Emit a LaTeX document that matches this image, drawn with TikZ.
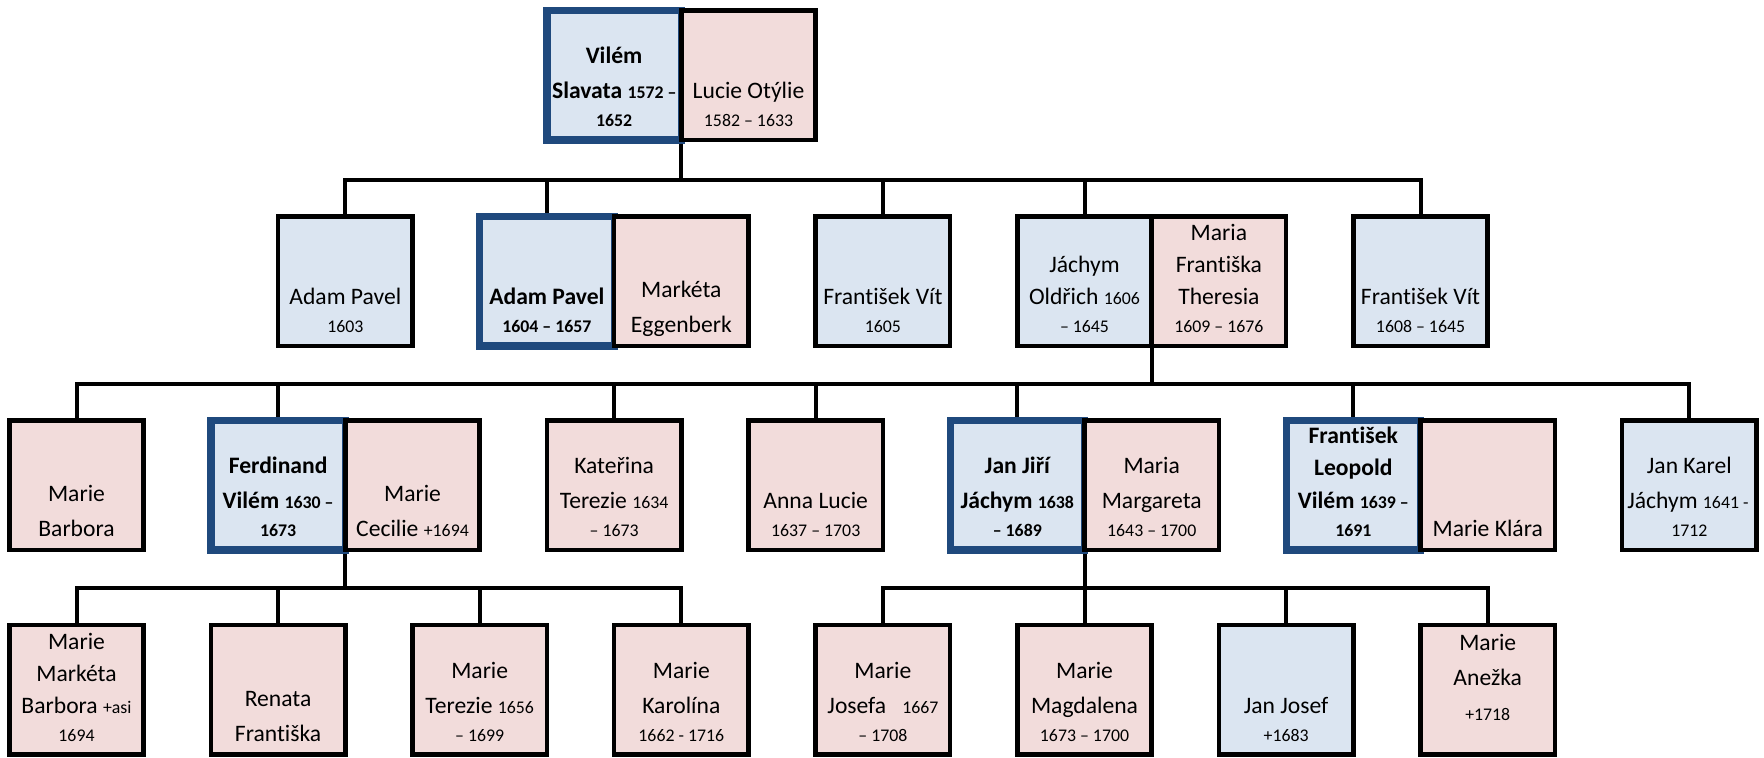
\documentclass[tikz,border=0pt]{standalone}
\usepackage{fontspec}
\setmainfont{Carlito}[Ligatures=NoCommon]
\usetikzlibrary{backgrounds}
\definecolor{maleFill}{RGB}{219,229,241}
\definecolor{femFill}{RGB}{242,220,219}
\definecolor{heirBlue}{RGB}{31,73,125}
\newcommand\nfont{\fontsize{11.8}{17.5}\selectfont}
\newcommand\yr{\fontsize{8.9}{17.5}\selectfont}
\newcommand\ptext[1]{\makebox[60pt]{\vbox to 51.25pt{\hsize=200pt\vss\centering\nfont #1\par\kern-\prevdepth}}}
\hbadness=10000 \hfuzz=\maxdimen \vbadness=10000 \vfuzz=\maxdimen
\tikzset{
  person/.style={rectangle, minimum width=67.2pt, minimum height=64.75pt, inner sep=0pt, outer sep=0pt, line width=2.3pt, draw=black},
  male/.style={person, fill=maleFill},
  female/.style={person, fill=femFill},
  heir/.style={person, fill=maleFill, draw=heirBlue, line width=3.6pt},
  link/.style={line width=2pt, draw=black},
}
\begin{document}
\begin{tikzpicture}[x=0.5pt,y=-0.5pt]
\useasboundingbox (0,0) rectangle (1764,757);
% level 0
\node[heir] (vilem) at (614.1,75.25) {\ptext{\bfseries Vilém\\\makebox[62pt][l]{Slavata {\yr 1572 –}}\\[-3.5pt]{\yr 1652}}};
\node[female] (lucie) at (748.5,75.25) {\ptext{Lucie Otýlie\\[-3.5pt]{\yr 1582 – 1633}}};
% level 1
\node[male] (adam) at (345.3,281.25) {\ptext{Adam Pavel\\[-3.5pt]{\yr 1603}}};
\node[heir] (adamb) at (546.9,281.25) {\ptext{\bfseries Adam Pavel\\[-3.5pt]{\yr 1604 – 1657}}};
\node[female] (marketa) at (681.3,281.25) {\ptext{Markéta\\Eggenberk}};
\node[male] (fvit) at (882.9,281.25) {\ptext{František Vít\\[-3.5pt]{\yr 1605}}};
\node[male] (jachym) at (1084.5,281.25) {\ptext{Jáchym\\[-1.5pt]Oldřich {\yr 1606}\\[-3.5pt]{\yr – 1645}}};
\node[female] (mariaf) at (1218.9,281.25) {\ptext{Maria\\[-1.5pt]Františka\\[-1.5pt]Theresia\\[-3.5pt]{\yr 1609 – 1676}}};
\node[male] (fvitb) at (1420.5,281.25) {\ptext{František Vít\\[-3.5pt]{\yr 1608 – 1645}}};
% level 2
\node[female] (mbarbora) at (76.5,485.25) {\ptext{Marie\\Barbora}};
\node[heir] (ferdinand) at (278.1,485.25) {\ptext{\bfseries Ferdinand\\Vilém {\yr 1630 –}\\[-3.5pt]{\yr 1673}}};
\node[female] (cecilie) at (412.5,485.25) {\ptext{Marie\\Cecilie {\yr +1694}}};
\node[female] (katerina) at (614.1,485.25) {\ptext{Kateřina\\Terezie {\yr 1634}\\[-3.5pt]{\yr – 1673}}};
\node[female] (anna) at (815.7,485.25) {\ptext{Anna Lucie\\[-3.5pt]{\yr 1637 – 1703}}};
\node[heir] (janjiri) at (1017.3,485.25) {\ptext{\bfseries Jan Jiří\\Jáchym {\yr 1638}\\[-3.5pt]{\yr – 1689}}};
\node[female] (margareta) at (1151.7,485.25) {\ptext{Maria\\Margareta\\[-3.5pt]{\yr 1643 – 1700}}};
\node[heir] (leopold) at (1353.3,485.25) {\ptext{\bfseries František\\[-1.5pt]Leopold\\[-1pt]Vilém {\yr 1639 –}\\[-3.5pt]{\yr 1691}}};
\node[female] (klara) at (1487.7,485.25) {\ptext{Marie Klára}};
\node[male] (jankarel) at (1689.3,485.25) {\ptext{Jan Karel\\\makebox[62pt][l]{Jáchym {\yr 1641 -}}\\[-3.5pt]{\yr 1712}}};
% level 3
\node[female] (mmarketa) at (76.5,689.75) {\ptext{Marie\\[-1.5pt]Markéta\\[-1.5pt]Barbora {\yr +asi}\\[-3.5pt]{\yr 1694}}};
\node[female] (renata) at (278.1,689.75) {\ptext{Renata\\Františka}};
\node[female] (mterezie) at (479.7,689.75) {\ptext{Marie\\Terezie {\yr 1656}\\[-3.5pt]{\yr – 1699}}};
\node[female] (karolina) at (681.3,689.75) {\ptext{Marie\\Karolína\\[-3.5pt]{\yr 1662 - 1716}}};
\node[female] (josefa) at (882.9,689.75) {\ptext{Marie\\Josefa\ \ \ {\yr 1667}\\[-3.5pt]{\yr – 1708}}};
\node[female] (magdalena) at (1084.5,689.75) {\ptext{Marie\\Magdalena\\[-3.5pt]{\yr 1673 – 1700}}};
\node[male] (janjosef) at (1286.1,689.75) {\ptext{Jan Josef\\[-3.5pt]{\yr +1683}}};
\node[female] (anezka) at (1487.7,689.75) {\ptext{Marie\\Anežka\\{\yr +1718}\\[-7pt]\mbox{}}};
% connectors
\coordinate (bar1) at (0,179.5);
\coordinate (bar2) at (0,383.5);
\coordinate (bar3) at (0,588);
\begin{scope}[on background layer]
\fill[white] (0,0) rectangle (1764,757);
\foreach \ch in {adam,adamb,fvit,jachym,fvitb}
  \draw[link] (vilem.south east) -- (vilem.south east |- bar1) -| (\ch.north);
\foreach \ch in {mbarbora,ferdinand,katerina,anna,janjiri,leopold,jankarel}
  \draw[link] (jachym.south east) -- (jachym.south east |- bar2) -| (\ch.north);
\foreach \ch in {mmarketa,renata,mterezie,karolina}
  \draw[link] (ferdinand.south east) -- (ferdinand.south east |- bar3) -| (\ch.north);
\foreach \ch in {josefa,magdalena,janjosef,anezka}
  \draw[link] (janjiri.south east) -- (janjiri.south east |- bar3) -| (\ch.north);
\end{scope}
\end{tikzpicture}
\end{document}
